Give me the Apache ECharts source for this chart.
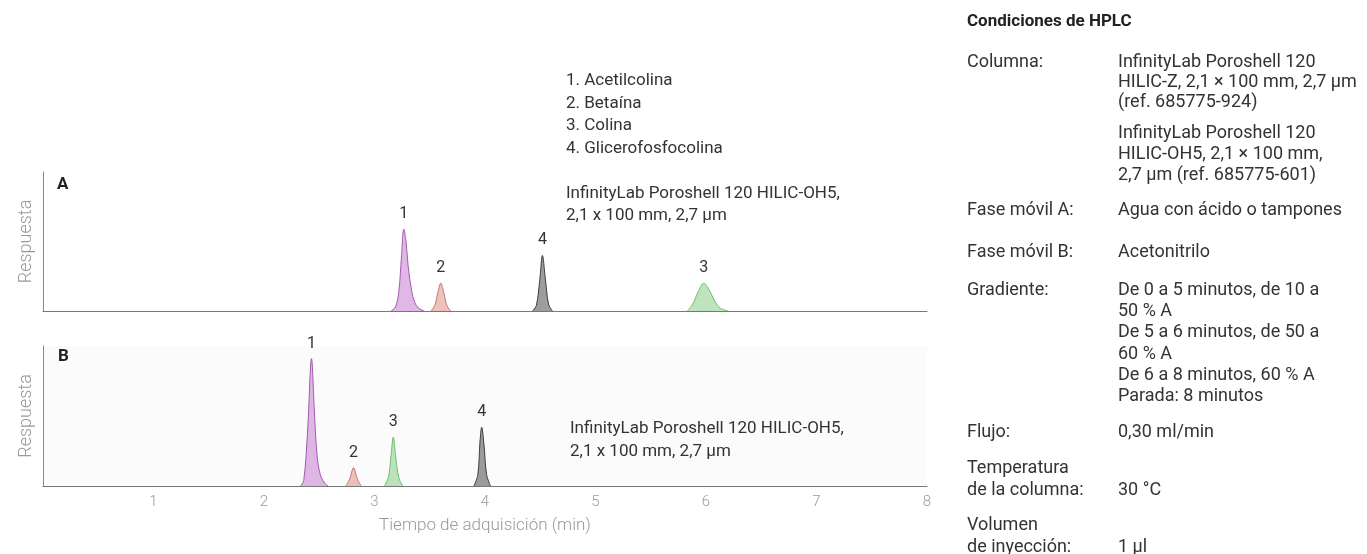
<!DOCTYPE html>
<html>
<head>
<meta charset="utf-8">
<script src="https://cdn.jsdelivr.net/npm/echarts@6/dist/echarts.min.js"></script>
<style>
  html, body { margin: 0; padding: 0; background: #fff; }
  #main { width: 1367px; height: 554px; }
</style>
</head>
<body>
<div id="main"></div>
<script>
// eje x: tiempo (min)
var xTicks = [0, 1, 2, 3, 4, 5, 6, 7, 8];

// panel A - [tiempo, respuesta]
var aAcetilcolina = [[3.15, 0], [3.19, 3], [3.22, 14], [3.245, 40], [3.265, 59], [3.285, 50], [3.305, 32], [3.335, 15], [3.365, 6], [3.4, 2], [3.45, 0]];
var aBetaina = [[3.51, 0], [3.545, 4], [3.575, 14], [3.6, 20], [3.625, 14], [3.655, 4], [3.69, 0]];
var aGlicerofosfocolina = [[4.43, 0], [4.465, 4], [4.495, 22], [4.52, 40], [4.545, 24], [4.575, 5], [4.61, 0]];
var aColina = [[5.83, 0], [5.88, 5], [5.93, 14], [5.98, 20], [6.03, 15], [6.08, 7], [6.13, 2], [6.2, 0]];

// panel B - [tiempo, respuesta]
var bAcetilcolina = [[2.33, 0], [2.36, 4], [2.395, 40], [2.43, 91], [2.455, 55], [2.48, 22], [2.51, 8], [2.55, 2], [2.58, 0]];
var bBetaina = [[2.74, 0], [2.775, 5], [2.81, 13], [2.845, 5], [2.88, 0]];
var bColina = [[3.09, 0], [3.125, 6], [3.15, 22], [3.17, 35], [3.19, 22], [3.22, 6], [3.255, 0]];
var bGlicerofosfocolina = [[3.9, 0], [3.935, 8], [3.955, 32], [3.97, 42], [3.99, 30], [4.015, 8], [4.05, 0]];

var compuestos = ['1. Acetilcolina', '2. Betaína', '3. Colina', '4. Glicerofosfocolina'];
var columnaA = ['InfinityLab Poroshell 120 HILIC-OH5,', '2,1 x 100 mm, 2,7 µm'];
var columnaB = ['InfinityLab Poroshell 120 HILIC-OH5,', '2,1 x 100 mm, 2,7 µm'];

// condiciones de HPLC
var condTitulo = 'Condiciones de HPLC';
var condEtiquetas = ['Columna:', 'Fase móvil A:', 'Fase móvil B:', 'Gradiente:', 'Flujo:', 'Temperatura', 'de la columna:', 'Volumen', 'de inyección:'];
var condValores = [
  'InfinityLab Poroshell 120', 'HILIC-Z, 2,1 × 100 mm, 2,7 µm', '(ref. 685775-924)',
  'InfinityLab Poroshell 120', 'HILIC-OH5, 2,1 × 100 mm,', '2,7 µm (ref. 685775-601)',
  'Agua con ácido o tampones', 'Acetonitrilo',
  'De 0 a 5 minutos, de 10 a', '50 % A', 'De 5 a 6 minutos, de 50 a', '60 % A', 'De 6 a 8 minutos, 60 % A', 'Parada: 8 minutos',
  '0,30 ml/min', '30 °C', '1 µl'
];

var chart = echarts.init(document.getElementById('main'), null, { renderer: 'canvas' });

var FONT = 'Roboto, "Noto Sans", sans-serif';

function peak(name, data, color, fill, label, xi) {
  return {
    type: 'line',
    name: name,
    xAxisIndex: xi,
    yAxisIndex: xi,
    data: data,
    smooth: 0.35,
    symbol: 'none',
    lineStyle: { color: color, width: 1 },
    areaStyle: { color: fill },
    markPoint: {
      symbol: 'circle',
      symbolSize: 0,
      data: [{ type: 'max' }],
      label: {
        show: true,
        position: 'top',
        distance: 7,
        formatter: label,
        color: '#333',
        fontSize: 16,
        fontFamily: FONT
      }
    },
    z: 3
  };
}

// posiciones de texto del cuadro de condiciones
var etiqY = [62, 210, 252, 290, 432, 468, 490, 525, 547];
var valorY = [62, 82, 102, 133, 154, 175, 210, 252, 290, 311, 332, 354, 375, 396, 432, 490, 547];

var graphic = [];
function txt(s, x, y, size, color, weight) {
  graphic.push({
    type: 'text',
    x: x,
    y: y,
    silent: true,
    style: {
      text: s,
      fill: color,
      font: (weight || 'normal') + ' ' + size + 'px ' + FONT,
      align: 'left',
      verticalAlign: 'middle',
      textAlign: 'left',
      textVerticalAlign: 'middle'
    }
  });
}

txt(condTitulo, 967, 22, 17, '#222', 'bold');
condEtiquetas.forEach(function (s, i) { txt(s, 967, etiqY[i], 18, '#333'); });
condValores.forEach(function (s, i) { txt(s, 1118, valorY[i], 18, '#333'); });

compuestos.forEach(function (s, i) { txt(s, 566, 81 + i * 22.5, 17, '#333'); });
columnaA.forEach(function (s, i) { txt(s, 566, 194 + i * 22, 17, '#333'); });
columnaB.forEach(function (s, i) { txt(s, 570, 429 + i * 23, 17, '#333'); });

txt('A', 57, 185, 17, '#222', 'bold');
txt('B', 58, 357, 17, '#222', 'bold');

graphic.push({
  type: 'text',
  x: 485,
  y: 526,
  silent: true,
  style: {
    text: 'Tiempo de adquisición (min)',
    fill: '#999',
    font: '300 17px ' + FONT,
    align: 'center',
    verticalAlign: 'middle',
    textAlign: 'center',
    textVerticalAlign: 'middle'
  }
});

var yAxisBase = {
  type: 'value',
  min: 0,
  max: 100,
  name: 'Respuesta',
  nameLocation: 'middle',
  nameRotate: 90,
  nameGap: 8,
  nameTextStyle: { color: '#999', fontSize: 18, fontWeight: 300, fontFamily: FONT },
  axisLine: { show: true, lineStyle: { color: '#888', width: 1 } },
  axisTick: { show: false },
  axisLabel: { show: false },
  splitLine: { show: false }
};

var option = {
  backgroundColor: '#fff',
  animation: false,
  textStyle: { fontFamily: FONT },
  graphic: graphic,
  grid: [
    { left: 43, width: 884, top: 172, height: 139 },
    { left: 43, width: 884, top: 346, height: 140, show: true, backgroundColor: '#fbfbfb', borderWidth: 0 }
  ],
  xAxis: [
    {
      gridIndex: 0,
      type: 'value',
      min: xTicks[0],
      max: xTicks[xTicks.length - 1],
      interval: 1,
      axisLine: { show: true, onZero: false, lineStyle: { color: '#777', width: 1.2 } },
      axisTick: { show: false },
      axisLabel: { show: false },
      splitLine: { show: false }
    },
    {
      gridIndex: 1,
      type: 'value',
      min: xTicks[0],
      max: xTicks[xTicks.length - 1],
      interval: 1,
      axisLine: { show: true, onZero: false, lineStyle: { color: '#777', width: 1.2 } },
      axisTick: { show: false },
      axisLabel: {
        show: true,
        showMinLabel: false,
        color: '#999',
        fontSize: 15,
        fontWeight: 300,
        fontFamily: FONT,
        margin: 9
      },
      splitLine: { show: false }
    }
  ],
  yAxis: [
    Object.assign({ gridIndex: 0 }, yAxisBase),
    Object.assign({ gridIndex: 1 }, yAxisBase)
  ],
  series: [
    peak('Acetilcolina A', aAcetilcolina, '#a458b0', 'rgba(190,110,202,0.7)', '1', 0),
    peak('Betaína A', aBetaina, '#c9786c', 'rgba(215,130,118,0.7)', '2', 0),
    peak('Glicerofosfocolina A', aGlicerofosfocolina, '#3c3c3c', 'rgba(80,80,80,0.8)', '4', 0),
    peak('Colina A', aColina, '#6cbf70', 'rgba(120,200,120,0.7)', '3', 0),
    peak('Acetilcolina B', bAcetilcolina, '#a458b0', 'rgba(190,110,202,0.7)', '1', 1),
    peak('Betaína B', bBetaina, '#c9786c', 'rgba(215,130,118,0.7)', '2', 1),
    peak('Colina B', bColina, '#6cbf70', 'rgba(120,200,120,0.7)', '3', 1),
    peak('Glicerofosfocolina B', bGlicerofosfocolina, '#3c3c3c', 'rgba(80,80,80,0.8)', '4', 1)
  ]
};

chart.setOption(option);
</script>
</body>
</html>
